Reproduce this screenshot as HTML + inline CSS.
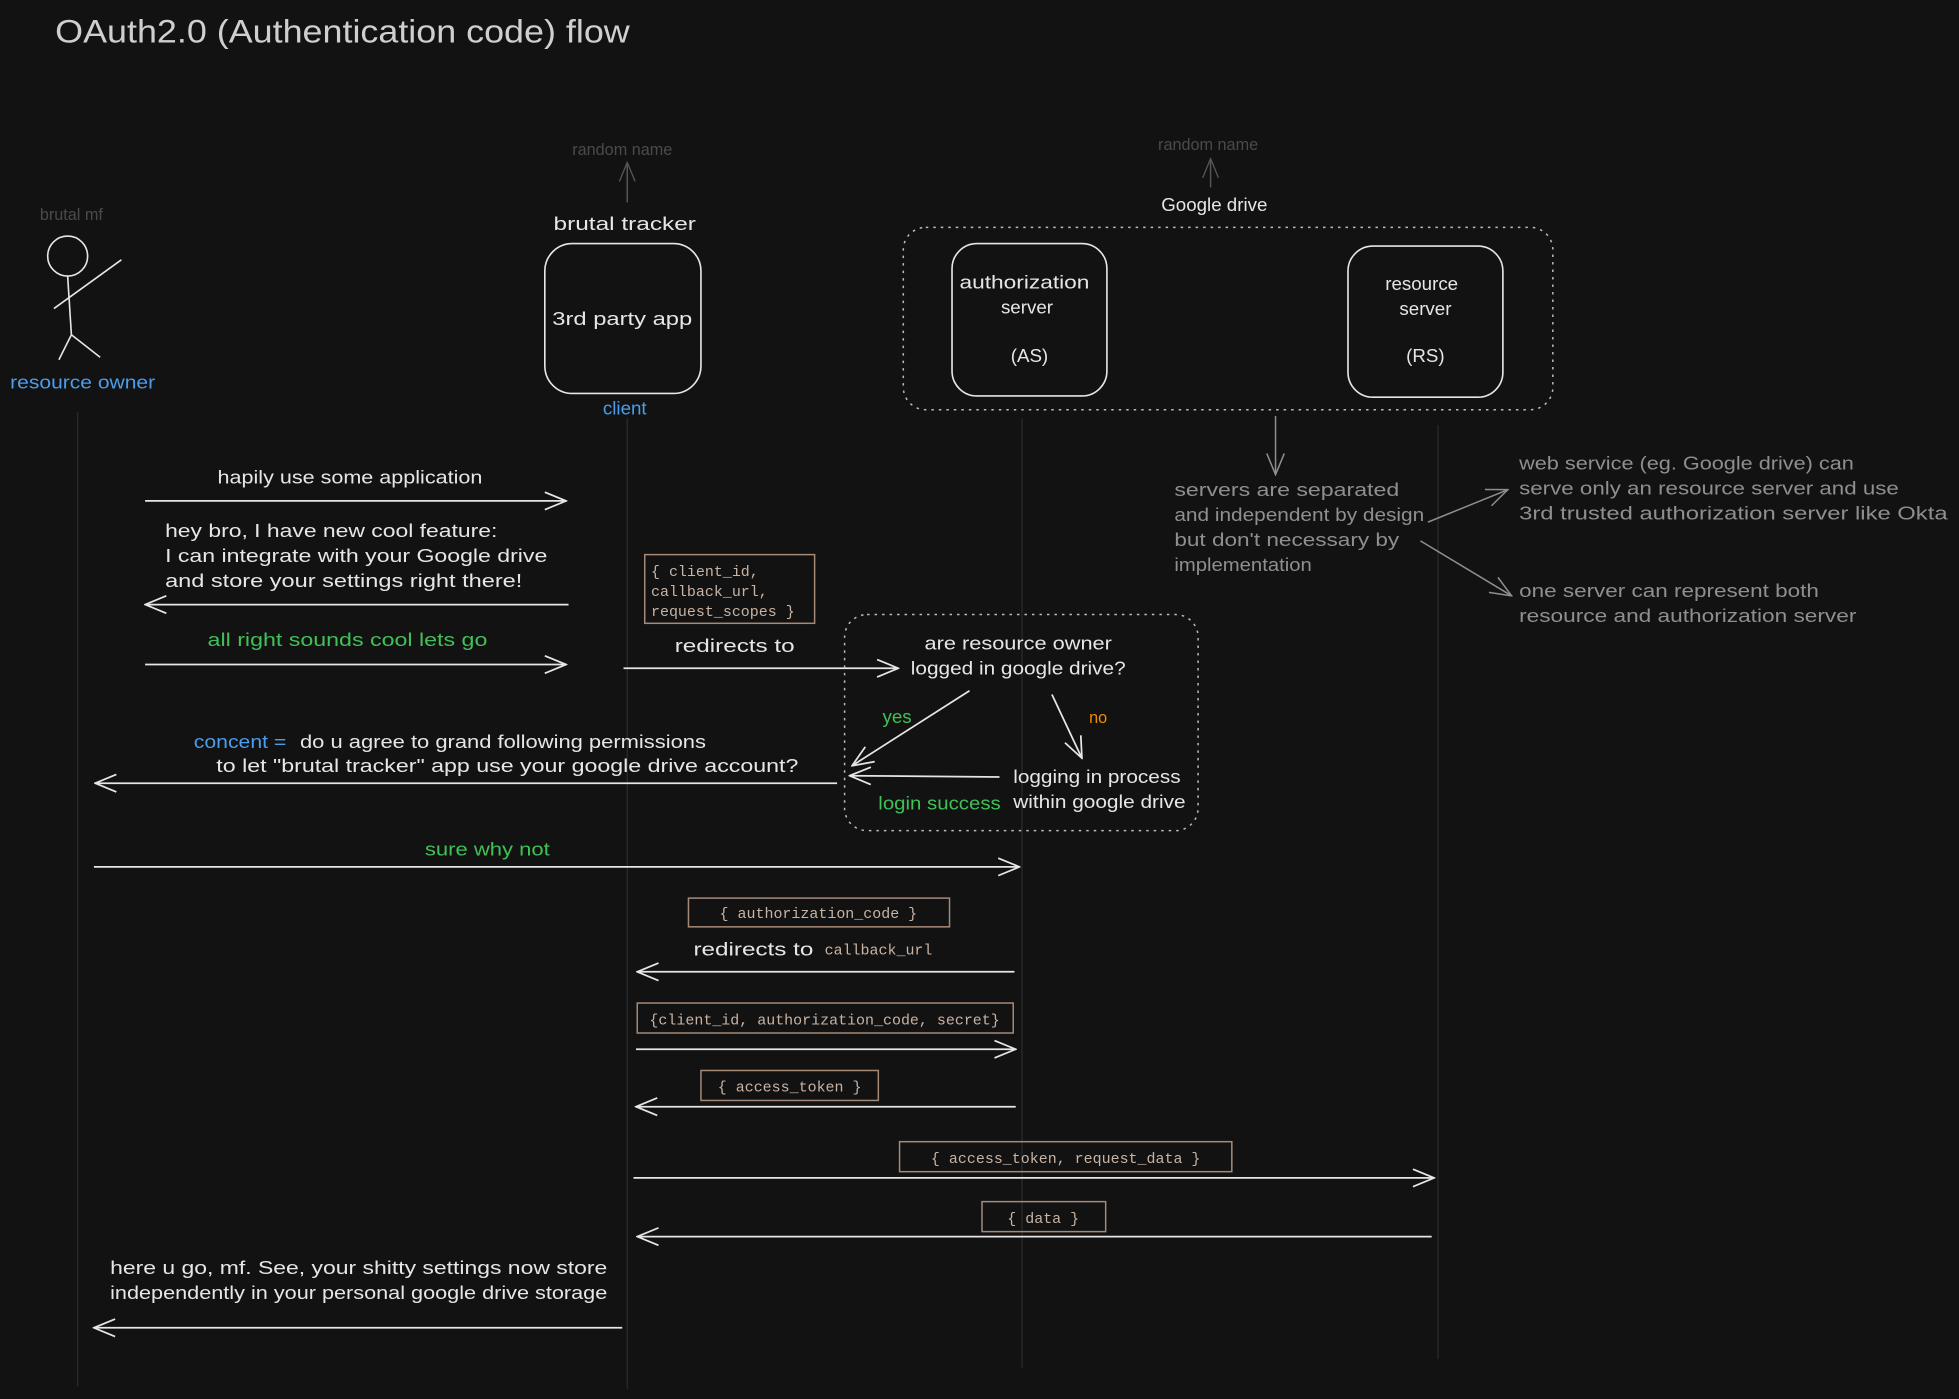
<!DOCTYPE html>
<html><head><meta charset="utf-8"><style>
html,body{margin:0;padding:0;background:#121212;}
svg{display:block}
text{font-family:"Liberation Sans",sans-serif;}
.w{fill:#e6e6e6;font-size:15px}
.g{fill:#40c057;font-size:15px}
.b{fill:#4a9eed;font-size:15px}
.gr{fill:#8f8f8f;font-size:15px}
.dk{fill:#4a4a4a;font-size:13px}
.m{fill:#c9b3a3;font-family:"Liberation Mono",monospace;font-size:12px}
.box{fill:none;stroke:#a58a78;stroke-width:1.2}
.ar{stroke:#e6e6e6;stroke-width:1.4;fill:none;marker-end:url(#h)}
.ag{stroke:#8f8f8f;stroke-width:1.2;fill:none;marker-end:url(#hg)}
.ll{stroke:#2b2b2b;stroke-width:1}
</style></head><body>
<svg width="1959" height="1399" viewBox="0 0 1568 1120" xmlns="http://www.w3.org/2000/svg">
<defs>
<marker id="h" viewBox="0 0 20 20" refX="19" refY="10" markerWidth="20" markerHeight="20" markerUnits="userSpaceOnUse" orient="auto"><path d="M2,3 L19,10 L2,17" fill="none" stroke="#e6e6e6" stroke-width="1.4"/></marker>
<marker id="hg" viewBox="0 0 20 20" refX="19" refY="10" markerWidth="20" markerHeight="20" markerUnits="userSpaceOnUse" orient="auto"><path d="M2,3 L19,10 L2,17" fill="none" stroke="#8f8f8f" stroke-width="1.2"/></marker>
<marker id="hd" viewBox="0 0 20 20" refX="19" refY="10" markerWidth="18" markerHeight="18" markerUnits="userSpaceOnUse" orient="auto"><path d="M2,3 L19,10 L2,17" fill="none" stroke="#555" stroke-width="1.2"/></marker>
</defs>
<rect width="1568" height="1120" fill="#121212"/>
<text x="44" y="34" style="font-size:26px;fill:#cfcfcf" textLength="460" lengthAdjust="spacingAndGlyphs">OAuth2.0 (Authentication code) flow</text>

<line class="ll" x1="62" y1="330" x2="62" y2="1110"/>
<line class="ll" x1="502" y1="335" x2="502" y2="1112"/>
<line class="ll" x1="818" y1="335" x2="818" y2="1095"/>
<line class="ll" x1="1151" y1="340" x2="1151" y2="1088"/>

<g stroke="#e6e6e6" stroke-width="1.3" fill="none">
<circle cx="54" cy="205" r="16"/>
<line x1="54" y1="221" x2="57" y2="268"/>
<line x1="43" y1="247" x2="97" y2="208"/>
<line x1="57" y1="268" x2="47" y2="288"/>
<line x1="57" y1="268" x2="80" y2="286"/>
</g>
<text class="dk" x="57" y="176" text-anchor="middle">brutal mf</text>
<text class="b" x="66" y="311" text-anchor="middle" textLength="116" lengthAdjust="spacingAndGlyphs">resource owner</text>

<rect x="436" y="195" width="125" height="120" rx="22" fill="none" stroke="#e6e6e6" stroke-width="1.3"/>
<text class="w" x="498" y="260" text-anchor="middle" textLength="112" lengthAdjust="spacingAndGlyphs">3rd party app</text>
<text class="w" x="500" y="184" text-anchor="middle" textLength="114" lengthAdjust="spacingAndGlyphs">brutal tracker</text>
<text class="b" x="500" y="332" text-anchor="middle">client</text>
<text class="dk" x="498" y="124" text-anchor="middle">random name</text>
<line x1="502" y1="162" x2="502" y2="130" stroke="#555" stroke-width="1.2" marker-end="url(#hd)"/>

<rect x="723" y="182" width="520" height="146" rx="18" fill="none" stroke="#bbb" stroke-width="1.2" stroke-dasharray="2,4"/>
<text class="w" x="972" y="169" text-anchor="middle">Google drive</text>
<text class="dk" x="967" y="120" text-anchor="middle">random name</text>
<line x1="969" y1="150" x2="969" y2="127" stroke="#555" stroke-width="1.2" marker-end="url(#hd)"/>
<rect x="762" y="195" width="124" height="122" rx="20" fill="none" stroke="#e6e6e6" stroke-width="1.3"/>
<text class="w" x="820" y="231" text-anchor="middle" textLength="104" lengthAdjust="spacingAndGlyphs">authorization</text>
<text class="w" x="822" y="251" text-anchor="middle">server</text>
<text class="w" x="824" y="290" text-anchor="middle">(AS)</text>
<rect x="1079" y="197" width="124" height="121" rx="20" fill="none" stroke="#e6e6e6" stroke-width="1.3"/>
<text class="w" x="1138" y="232" text-anchor="middle">resource</text>
<text class="w" x="1141" y="252" text-anchor="middle">server</text>
<text class="w" x="1141" y="290" text-anchor="middle">(RS)</text>

<line class="ag" x1="1021" y1="333" x2="1021" y2="380"/>
<text class="gr" x="940" y="397" textLength="180" lengthAdjust="spacingAndGlyphs">servers are separated</text>
<text class="gr" x="940" y="417" textLength="200" lengthAdjust="spacingAndGlyphs">and independent by design</text>
<text class="gr" x="940" y="437" textLength="180" lengthAdjust="spacingAndGlyphs">but don't necessary by</text>
<text class="gr" x="940" y="457" textLength="110" lengthAdjust="spacingAndGlyphs">implementation</text>
<line class="ag" x1="1143" y1="418" x2="1207" y2="392"/>
<line class="ag" x1="1137" y1="433" x2="1210" y2="477"/>
<text class="gr" x="1216" y="376" textLength="268" lengthAdjust="spacingAndGlyphs">web service (eg. Google drive) can</text>
<text class="gr" x="1216" y="396" textLength="304" lengthAdjust="spacingAndGlyphs">serve only an resource server and use</text>
<text class="gr" x="1216" y="416" textLength="343" lengthAdjust="spacingAndGlyphs">3rd trusted authorization server like Okta</text>
<text class="gr" x="1216" y="478" textLength="240" lengthAdjust="spacingAndGlyphs">one server can represent both</text>
<text class="gr" x="1216" y="498" textLength="270" lengthAdjust="spacingAndGlyphs">resource and authorization server</text>

<text class="w" x="280" y="387" text-anchor="middle" textLength="212" lengthAdjust="spacingAndGlyphs">hapily use some application</text>
<line class="ar" x1="116" y1="401" x2="453" y2="401"/>

<text class="w" x="132" y="430" textLength="266" lengthAdjust="spacingAndGlyphs">hey bro, I have new cool feature:</text>
<text class="w" x="132" y="450" textLength="306" lengthAdjust="spacingAndGlyphs">I can integrate with your Google drive</text>
<text class="w" x="132" y="470" textLength="286" lengthAdjust="spacingAndGlyphs">and store your settings right there!</text>
<line class="ar" x1="455" y1="484" x2="116" y2="484"/>

<rect class="box" x="516" y="444" width="136" height="55"/>
<text class="m" x="521" y="461">{ client_id,</text>
<text class="m" x="521" y="477">callback_url,</text>
<text class="m" x="521" y="493">request_scopes }</text>

<text class="g" x="278" y="517" text-anchor="middle" textLength="224" lengthAdjust="spacingAndGlyphs">all right sounds cool lets go</text>
<line class="ar" x1="116" y1="532" x2="453" y2="532"/>

<text class="w" x="588" y="522" text-anchor="middle" textLength="96" lengthAdjust="spacingAndGlyphs">redirects to</text>
<line class="ar" x1="499" y1="535" x2="719" y2="535"/>

<rect x="676" y="492" width="283" height="173" rx="18" fill="none" stroke="#bbb" stroke-width="1.2" stroke-dasharray="2,4"/>
<text class="w" x="815" y="520" text-anchor="middle" textLength="150" lengthAdjust="spacingAndGlyphs">are resource owner</text>
<text class="w" x="815" y="540" text-anchor="middle" textLength="172" lengthAdjust="spacingAndGlyphs">logged in google drive?</text>
<line class="ar" x1="776" y1="553" x2="682" y2="613"/>
<text class="g" x="718" y="579" text-anchor="middle">yes</text>
<line class="ar" x1="842" y1="556" x2="866" y2="607"/>
<text x="879" y="579" text-anchor="middle" style="fill:#f08c00;font-size:13px">no</text>
<line class="ar" x1="800" y1="622" x2="680" y2="621"/>
<text class="w" x="878" y="627" text-anchor="middle" textLength="134" lengthAdjust="spacingAndGlyphs">logging in process</text>
<text class="w" x="880" y="647" text-anchor="middle" textLength="138" lengthAdjust="spacingAndGlyphs">within google drive</text>
<text class="g" x="752" y="648" text-anchor="middle" textLength="98" lengthAdjust="spacingAndGlyphs">login success</text>

<text class="b" x="155" y="599" textLength="74" lengthAdjust="spacingAndGlyphs">concent =</text>
<text class="w" x="240" y="599" textLength="325" lengthAdjust="spacingAndGlyphs">do u agree to grand following permissions</text>
<text class="w" x="173" y="618" textLength="466" lengthAdjust="spacingAndGlyphs">to let "brutal tracker" app use your google drive account?</text>
<line class="ar" x1="670" y1="627" x2="76" y2="627"/>

<text class="g" x="390" y="685" text-anchor="middle" textLength="100" lengthAdjust="spacingAndGlyphs">sure why not</text>
<line class="ar" x1="75" y1="694" x2="816" y2="694"/>

<rect class="box" x="551" y="719" width="209" height="23"/>
<text class="m" x="655" y="735" text-anchor="middle">{ authorization_code }</text>
<text class="w" x="555" y="765" textLength="96" lengthAdjust="spacingAndGlyphs">redirects to</text>
<text class="m" x="660" y="764">callback_url</text>
<line class="ar" x1="812" y1="778" x2="510" y2="778"/>

<rect class="box" x="510" y="803" width="301" height="24"/>
<text class="m" x="660" y="820" text-anchor="middle">{client_id, authorization_code, secret}</text>
<line class="ar" x1="509" y1="840" x2="813" y2="840"/>

<rect class="box" x="561" y="857" width="142" height="24"/>
<text class="m" x="632" y="874" text-anchor="middle">{ access_token }</text>
<line class="ar" x1="813" y1="886" x2="509" y2="886"/>

<rect class="box" x="720" y="914" width="266" height="24"/>
<text class="m" x="853" y="931" text-anchor="middle">{ access_token, request_data }</text>
<line class="ar" x1="507" y1="943" x2="1148" y2="943"/>

<rect class="box" x="786" y="962" width="99" height="24"/>
<text class="m" x="835" y="979" text-anchor="middle">{ data }</text>
<line class="ar" x1="1146" y1="990" x2="510" y2="990"/>

<text class="w" x="88" y="1020" textLength="398" lengthAdjust="spacingAndGlyphs">here u go, mf. See, your shitty settings now store</text>
<text class="w" x="88" y="1040" textLength="398" lengthAdjust="spacingAndGlyphs">independently in your personal google drive storage</text>
<line class="ar" x1="498" y1="1063" x2="75" y2="1063"/>
</svg>
</body></html>
